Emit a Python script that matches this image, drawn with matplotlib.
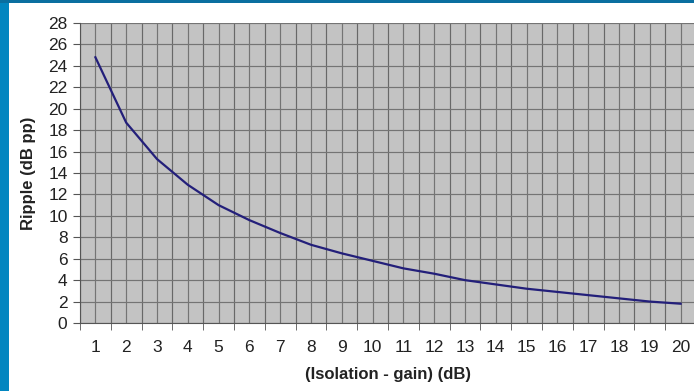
import numpy as np
import matplotlib.pyplot as plt
from matplotlib.patches import Rectangle

plt.rcParams['font.family'] = ['Liberation Sans', 'DejaVu Sans']

# Datos
iso_gain = [1, 2, 3, 4, 5, 6, 7, 8, 9, 10, 11, 12, 13, 14, 15, 16, 17, 18, 19, 20]
ripple = [24.8, 18.7, 15.3, 12.9, 11.0, 9.6, 8.4, 7.3, 6.5, 5.8,
          5.1, 4.6, 4.0, 3.6, 3.2, 2.9, 2.6, 2.3, 2.0, 1.8]
y_ticks = list(range(0, 29, 2))

fig = plt.figure(figsize=(6.94, 3.91), dpi=100)
fig.patch.set_facecolor('white')

# marco azul (izquierda y arriba)
fig.patches.append(Rectangle((0, 0), 9/694, 1, transform=fig.transFigure,
                             facecolor='#0286c0', edgecolor='none', zorder=0))
fig.patches.append(Rectangle((0, 1 - 3/391), 1, 3/391, transform=fig.transFigure,
                             facecolor='#0a6fa0', edgecolor='none', zorder=0))

ax = fig.add_axes([80/694, 1 - 323/391, 616/694, 300/391])
ax.set_facecolor('#c3c3c3')

ax.plot(iso_gain, ripple, color='#231f7a', lw=1.6, zorder=3)

ax.set_xlim(0.5, 20.5)
ax.set_ylim(0, 28)
ax.set_yticks(y_ticks)
ax.set_xticks(iso_gain)
ax.set_xticks(np.arange(0.5, 21, 1), minor=True)

ax.grid(True, which='major', axis='both', color='#747474', lw=0.85, zorder=1)
ax.grid(True, which='minor', axis='x', color='#686868', lw=0.85, zorder=1)
ax.set_axisbelow(True)

ax.tick_params(axis='x', which='major', length=0, pad=12, labelsize=12.5, colors='#222222')
ax.tick_params(axis='x', which='minor', length=5, color='#555555')
ax.tick_params(axis='y', length=5, pad=4, labelsize=12.5, color='#555555', labelcolor='#222222')

for s in ['top', 'right']:
    ax.spines[s].set_visible(False)
ax.spines['left'].set_color('#555555')
ax.spines['bottom'].set_color('#555555')

ax.set_xlabel('(Isolation - gain) (dB)', fontsize=12, fontweight='bold', labelpad=9, color='#222222')
ax.set_ylabel('Ripple (dB pp)', fontsize=12, fontweight='bold', labelpad=9, color='#222222')

fig.savefig('out.png', dpi=100)
